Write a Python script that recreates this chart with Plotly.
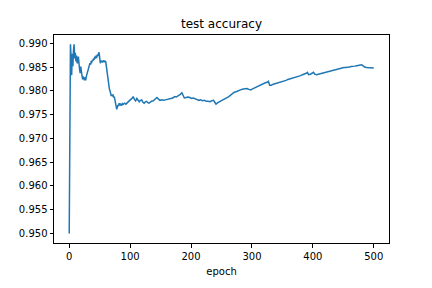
import plotly.graph_objects as go

epochs = [
    0, 1, 2, 3, 4, 5, 6, 7, 8, 9, 10, 11, 12, 13, 14, 15, 16, 17, 18, 19,
    20, 21, 22, 23, 24, 25, 26, 27, 28, 29, 30, 31, 32, 33, 34, 35, 36, 37, 38, 39,
    40, 41, 42, 43, 44, 45, 46, 47, 48, 49, 50, 51, 52, 53, 54, 55, 56, 57, 58, 59,
    60, 61, 62, 63, 64, 65, 66, 67, 68, 69, 70, 71, 72, 73, 74, 75, 76, 77, 78, 79,
    80, 81, 82, 83, 84, 85, 86, 87, 88, 89,
    91, 93, 95, 97, 99, 101, 103, 105, 107, 109, 111, 113, 115, 117, 119, 121, 123,
    125, 127, 129, 131, 133, 135, 138, 141, 144, 147, 149, 152, 155, 158, 161, 164,
    167, 170, 173, 176, 179, 182, 185, 187, 189, 192, 195, 198, 201, 204, 207, 210,
    213, 216, 219, 222, 225, 228, 231, 234, 237, 239, 241, 244, 247, 250, 253, 256,
    259, 262, 265, 268, 271, 274, 277, 280, 283, 286, 289, 292, 295, 298, 301, 304,
    307, 310, 313, 316, 319, 322, 325, 327, 329, 332, 335, 338, 341, 344, 347, 350,
    353, 356, 359, 362, 365, 368, 371, 374, 377, 380, 383, 386, 389, 391, 393, 396,
    399, 401, 403, 406, 409, 412, 415, 418, 421, 424, 427, 430, 433, 436, 439, 442,
    445, 448, 451, 454, 457, 460, 463, 466, 469, 472, 475, 478, 480, 482, 485, 488,
    491, 494, 497, 500,
]

accuracy = [
    0.9500, 0.9835, 0.9898, 0.9870, 0.9833, 0.9878, 0.9852, 0.9885, 0.9898, 0.9868,
    0.9880, 0.9862, 0.9874, 0.9858, 0.9860, 0.9872, 0.9850, 0.9845, 0.9837, 0.9851,
    0.9840, 0.9830, 0.9824, 0.9830, 0.9827, 0.9822, 0.9828, 0.9822, 0.9830, 0.9834,
    0.9840, 0.9846, 0.9850, 0.9855, 0.9858, 0.9855, 0.9861, 0.9860, 0.9865, 0.9863,
    0.9868, 0.9866, 0.9872, 0.9868, 0.9874, 0.9869, 0.9876, 0.9873, 0.9878, 0.9881,
    0.9870, 0.9858, 0.9864, 0.9860, 0.9863, 0.9861, 0.9862, 0.9864, 0.9860, 0.9863,
    0.9861, 0.9852, 0.9838, 0.9825, 0.9815, 0.9806, 0.9803, 0.9800, 0.9795, 0.9789,
    0.9792, 0.9790, 0.9791, 0.9786, 0.9788, 0.9782, 0.9775, 0.9763, 0.9761, 0.9766,
    0.9770, 0.9768, 0.9774, 0.9771, 0.9772, 0.9769, 0.9770, 0.9773, 0.9771, 0.9772,
    0.9774, 0.9772, 0.9774, 0.9776, 0.9779, 0.9782, 0.9784, 0.9788, 0.9782, 0.9779,
    0.9784, 0.9781, 0.9777, 0.9780, 0.9781, 0.9776, 0.9774, 0.9777, 0.9778, 0.9775,
    0.9774, 0.9776, 0.9778, 0.9779, 0.9782, 0.9786, 0.9782, 0.9780, 0.9781, 0.9780,
    0.9781, 0.9782, 0.9783, 0.9784, 0.9785, 0.9788, 0.9787, 0.9790, 0.9792, 0.9796,
    0.9790, 0.9785, 0.9786, 0.9787, 0.9786, 0.9784, 0.9785, 0.9783, 0.9782, 0.9780,
    0.9781, 0.9779, 0.9780, 0.9778, 0.9778, 0.9777, 0.9779, 0.9780, 0.9776, 0.9772,
    0.9775, 0.9777, 0.9779, 0.9782, 0.9784, 0.9786, 0.9788, 0.9791, 0.9795, 0.9797,
    0.9798, 0.9800, 0.9801, 0.9803, 0.9804, 0.9804, 0.9805, 0.9803, 0.9802, 0.9804,
    0.9806, 0.9808, 0.9810, 0.9811, 0.9813, 0.9815, 0.9817, 0.9818, 0.9820, 0.9812,
    0.9812, 0.9814, 0.9815, 0.9816, 0.9817, 0.9818, 0.9820, 0.9821, 0.9822, 0.9824,
    0.9825, 0.9826, 0.9827, 0.9828, 0.9830, 0.9831, 0.9832, 0.9834, 0.9835, 0.9837,
    0.9839, 0.9834, 0.9835, 0.9837, 0.9839, 0.9835, 0.9834, 0.9835, 0.9836, 0.9837,
    0.9838, 0.9839, 0.9840, 0.9841, 0.9843, 0.9844, 0.9845, 0.9845, 0.9846, 0.9847,
    0.9848, 0.9849, 0.9849, 0.9849, 0.9850, 0.9851, 0.9851, 0.9852, 0.9853, 0.9854,
    0.9855, 0.9855, 0.9853, 0.9850, 0.9849, 0.9849, 0.9849, 0.9848, 0.9848,
]

x_ticks = [0, 100, 200, 300, 400, 500]
y_ticks = [0.950, 0.955, 0.960, 0.965, 0.970, 0.975, 0.980, 0.985, 0.990]
y_tick_text = ["%.3f" % v for v in y_ticks]

fig = go.Figure()
fig.add_trace(go.Scatter(
    x=epochs, y=accuracy, mode="lines",
    line=dict(color="#1f77b4", width=1.5),
    showlegend=False,
))

font = dict(family="DejaVu Sans", size=10, color="black")

fig.update_layout(
    width=432, height=288,
    margin=dict(l=54, r=43, t=35, b=36),
    paper_bgcolor="white", plot_bgcolor="white",
    font=font,
    title=dict(text="test accuracy", x=0.5, xref="paper", xanchor="center",
               y=1 - 24 / 288, yref="container", yanchor="middle",
               font=dict(family="DejaVu Sans", size=12, color="black")),
)

fig.update_xaxes(
    range=[-25, 525], tickvals=x_ticks, ticktext=[str(t) for t in x_ticks],
    ticks="outside", ticklen=3.5, tickwidth=1, tickcolor="black",
    showline=True, mirror=True, linecolor="black", linewidth=1,
    showgrid=False, zeroline=False,
    title=dict(text="epoch", standoff=7, font=font),
)
fig.update_yaxes(
    range=[0.94798, 0.99175], tickvals=y_ticks, ticktext=y_tick_text,
    ticks="outside", ticklen=3.5, tickwidth=1, tickcolor="black",
    showline=True, mirror=True, linecolor="black", linewidth=1,
    showgrid=False, zeroline=False,
)

fig.write_html("out.html")
